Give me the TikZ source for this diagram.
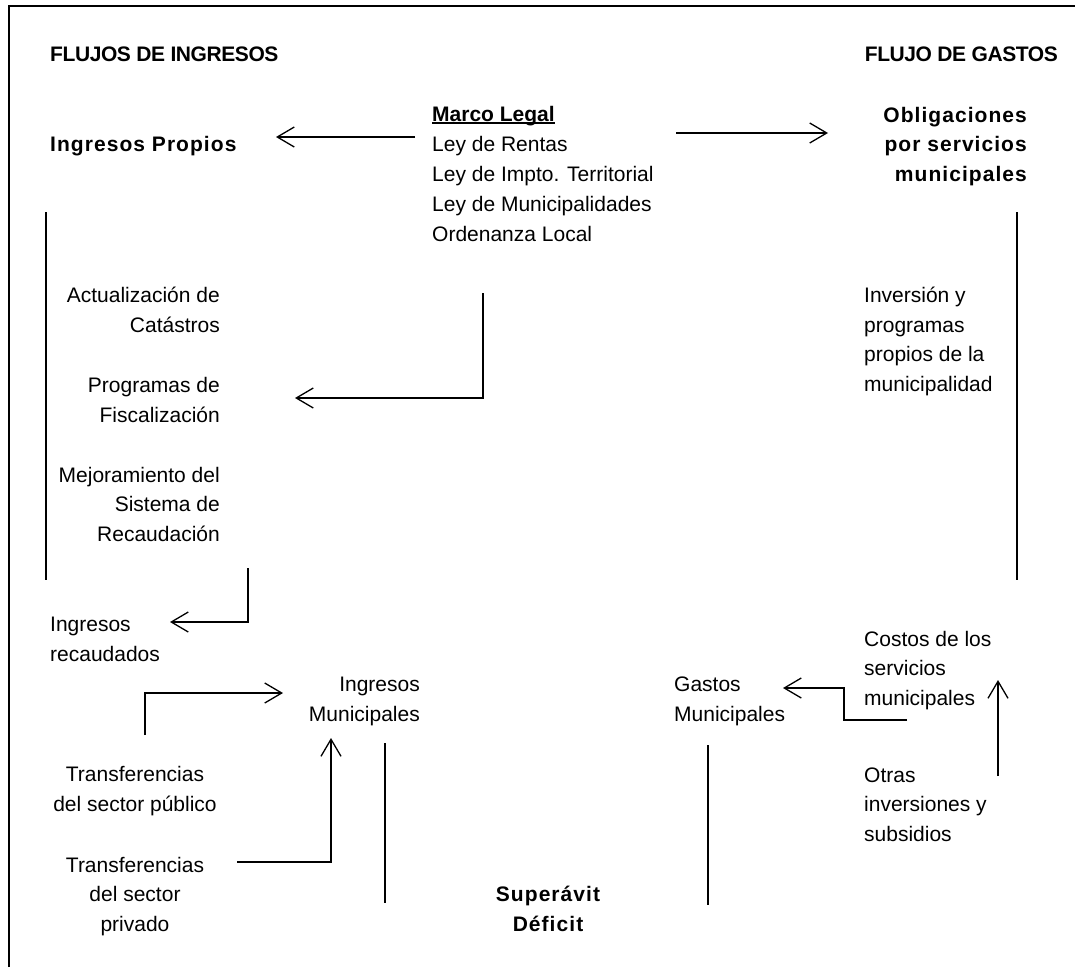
\documentclass[tikz,border=0pt]{standalone}
\usepackage{fontspec}
\setmainfont{Liberation Sans}
\newfontfamily\widefont[LetterSpace=5]{Liberation Sans}
\newfontfamily\narrowfont[LetterSpace=-2]{Liberation Sans}
\usetikzlibrary{arrows.meta}
% bold text with a rule just under the baseline
\newcommand\ulbold[1]{\leavevmode\setbox0\hbox{\bfseries #1}\rlap{\raisebox{-2.5pt}{\rule{\wd0}{1.6pt}}}\box0}
\tikzset{
  txt/.style={inner sep=0pt, font=\fontsize{21}{29.5}\selectfont},
  lbl/.style={txt, anchor=base west, align=left},
  rlbl/.style={txt, anchor=base east, align=right},
  clbl/.style={txt, anchor=base, align=center},
  head/.style={txt, font=\fontsize{21}{29.5}\selectfont\narrowfont\bfseries},
  bwide/.style={font=\fontsize{21}{29.5}\selectfont\widefont\bfseries},
  flow/.style={line width=1.3pt, -{Straight Barb[length=17pt,width=20pt,line width=1.3pt]}},
  bar/.style={line width=1.8pt},
  frame/.style={line width=1.3pt}
}
\begin{document}
\begin{tikzpicture}[x=1pt,y=-1pt]
\useasboundingbox (0,0) rectangle (1075,967);
\draw[frame] (9,967) -- (9,6) -- (1075,6);

% headings
\node[head, anchor=base west] (hin) at (50,61) {FLUJOS DE INGRESOS};
\node[head, anchor=base east] (hout) at (1058,61) {FLUJO DE GASTOS};

% legal framework (nodes are placed by the baseline of their last line)
\node[lbl, font=\fontsize{21}{30}\selectfont] (legal) at (432,241) {\ulbold{Marco Legal}\\Ley de Rentas\\Ley de Impto. Territorial\\Ley de Municipalidades\\Ordenanza Local};
\node[lbl, bwide] (propios) at (50,151) {Ingresos Propios};
\node[rlbl, bwide] (oblig) at (1027,181) {Obligaciones\\por servicios\\municipales};

% revenue side
\node[rlbl] (catastro) at (220,332) {Actualización de\\Catástros};
\node[rlbl] (fiscal) at (220,422) {Programas de\\Fiscalización};
\node[rlbl] (recaud) at (220,541) {Mejoramiento del\\Sistema de\\Recaudación};
\node[lbl] (recaudados) at (50,661) {Ingresos\\recaudados};
\node[rlbl] (ingmun) at (420,721) {Ingresos\\Municipales};
\node[clbl] (tpub) at (135,811) {Transferencias\\del sector público};
\node[clbl] (tpriv) at (135,931) {Transferencias\\del sector\\privado};

% expense side
\node[lbl] (inversion) at (864,391) {Inversión y\\programas\\propios de la\\municipalidad};
\node[lbl] (costos) at (864,705) {Costos de los\\servicios\\municipales};
\node[lbl] (gastmun) at (674,721) {Gastos\\Municipales};
\node[lbl] (otras) at (864,841) {Otras\\inversiones y\\subsidios};

% balance
\node[clbl, bwide] (balance) at (548,931) {Superávit\\Déficit};

% connector end points
\coordinate (l1a) at (415,137); \coordinate (l1b) at (276,137);
\coordinate (l2a) at (676,133); \coordinate (l2b) at (828,133);
\coordinate (l3a) at (483,293); \coordinate (l3b) at (295,398);
\coordinate (r1a) at (248,568); \coordinate (r1b) at (170,622);
\coordinate (p1a) at (145,735); \coordinate (p1b) at (283,693);
\coordinate (p2a) at (237,862); \coordinate (p2b) at (331,738);
\coordinate (c1a) at (907,720); \coordinate (c1m) at (844,688); \coordinate (c1b) at (783,688);
\coordinate (o1a) at (998,776); \coordinate (o1b) at (998,680);

% flows
\draw[flow] (l1a) -- (l1b);
\draw[flow] (l2a) -- (l2b);
\draw[flow] (l3a) |- (l3b);
\draw[flow] (r1a) |- (r1b);
\draw[flow] (p1a) |- (p1b);
\draw[flow] (p2a) -| (p2b);
\draw[flow] (c1a) -| (c1m) -- (c1b);
\draw[flow] (o1a) -- (o1b);

% vertical brackets
\coordinate (v1a) at (46,212);   \coordinate (v1b) at (46,580);
\coordinate (v2a) at (1017,212); \coordinate (v2b) at (1017,580);
\coordinate (v3a) at (385,743);  \coordinate (v3b) at (385,903);
\coordinate (v4a) at (708,745);  \coordinate (v4b) at (708,905);
\draw[bar] (v1a) -- (v1b);
\draw[bar] (v2a) -- (v2b);
\draw[bar] (v3a) -- (v3b);
\draw[bar] (v4a) -- (v4b);
\end{tikzpicture}
\end{document}
